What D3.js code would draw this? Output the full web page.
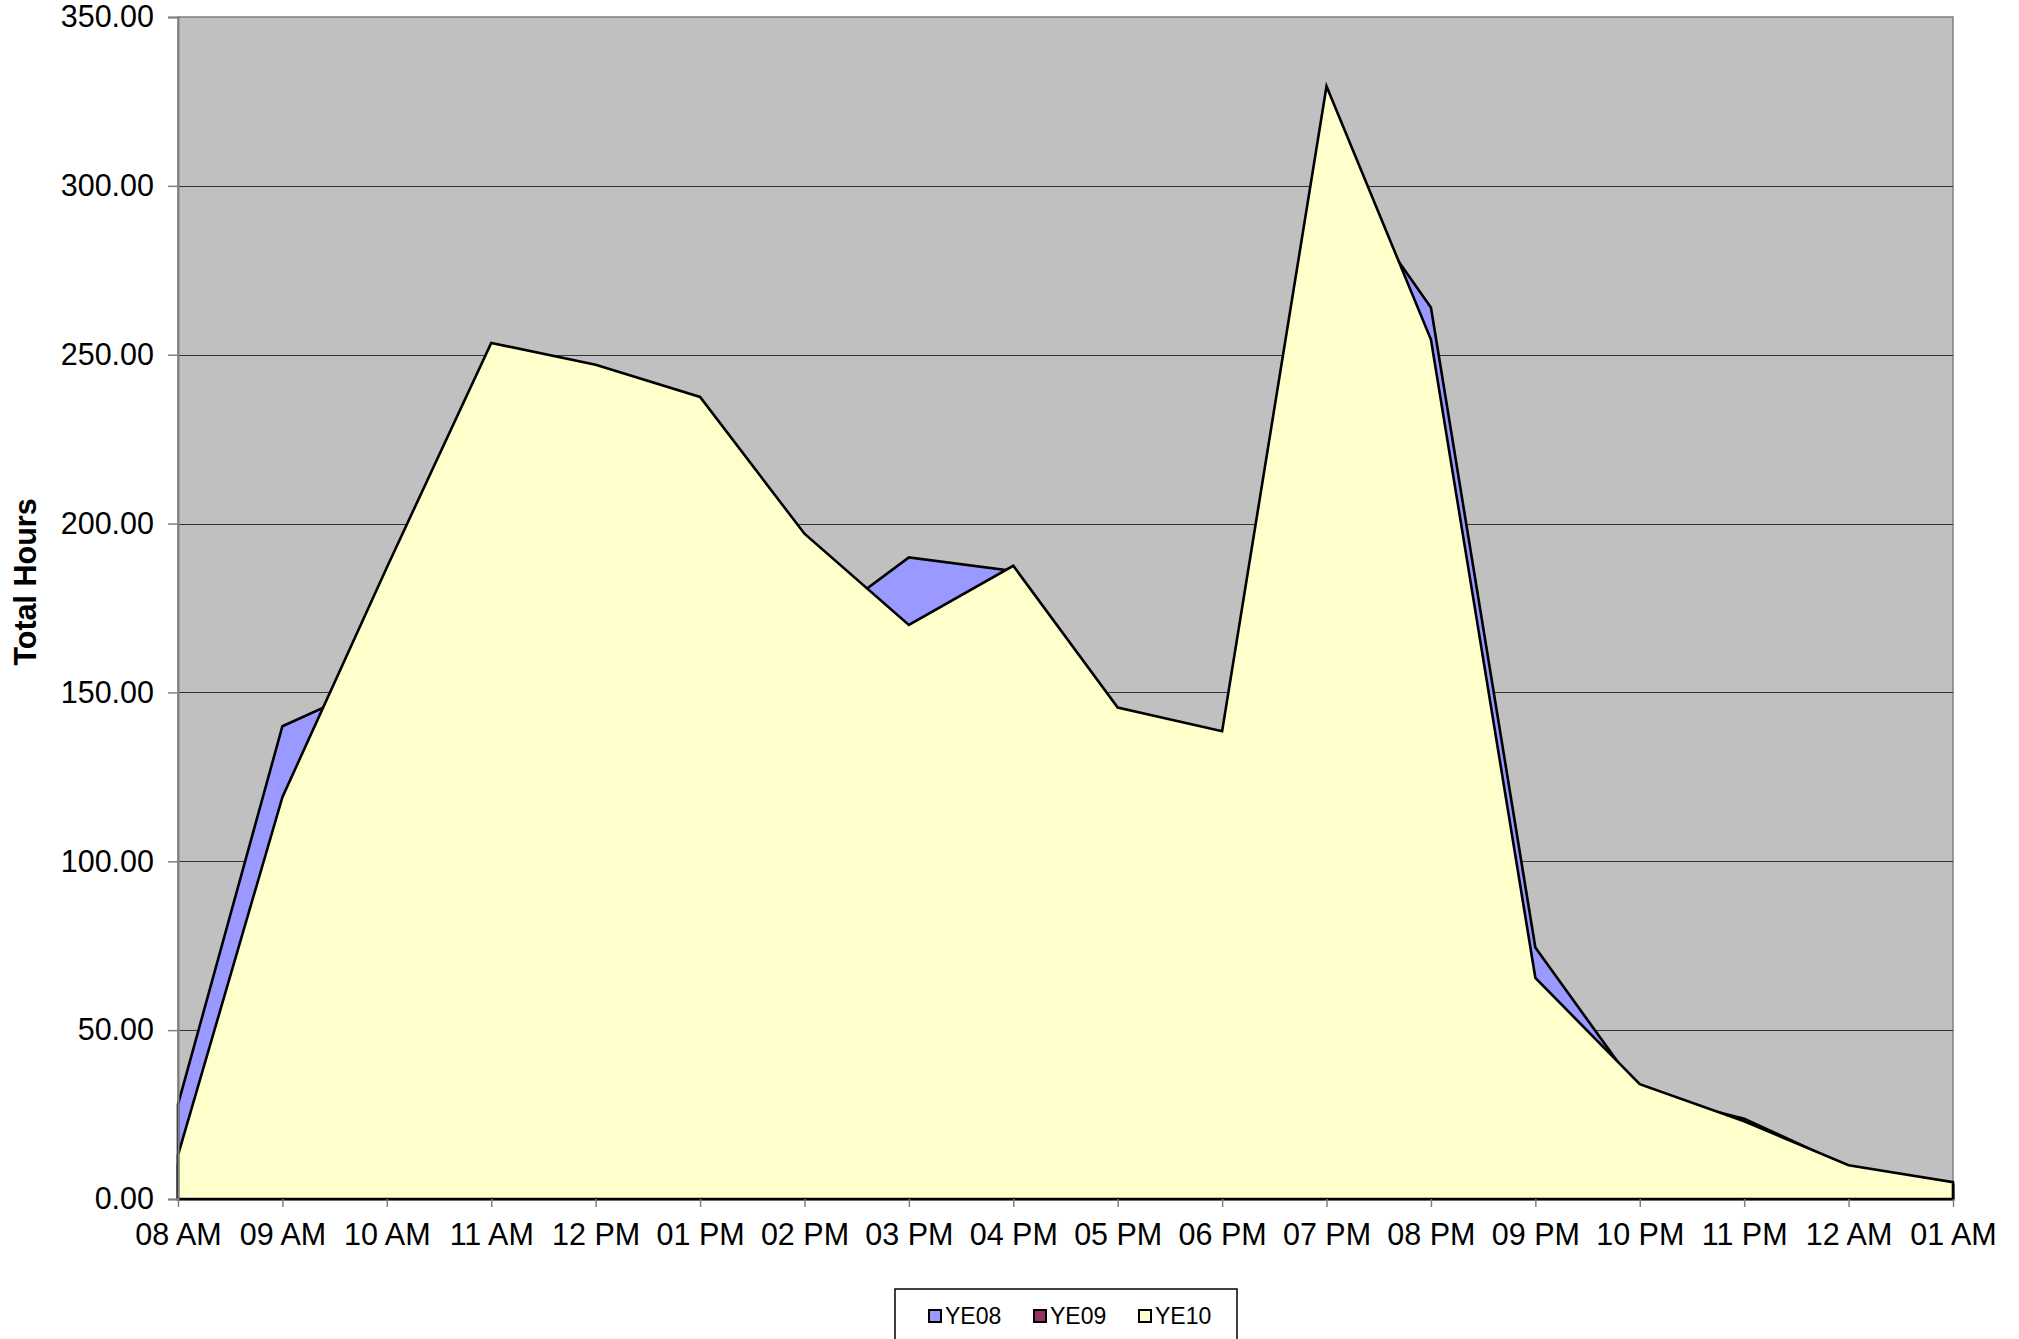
<!DOCTYPE html>
<html>
<head>
<meta charset="utf-8">
<script src="https://cdn.jsdelivr.net/npm/d3@7"></script>
<style>
  body { margin: 0; background: #fff; }
  text { font-family: "Liberation Sans", Arial, sans-serif; }
</style>
</head>
<body>
<div id="chart"></div>
<script>
// categories and series
var hours = ["08 AM", "09 AM", "10 AM", "11 AM", "12 PM", "01 PM", "02 PM", "03 PM", "04 PM",
             "05 PM", "06 PM", "07 PM", "08 PM", "09 PM", "10 PM", "11 PM", "12 AM", "01 AM"];
var ye08 = [28, 140, 154, 245, 238, 228, 167, 190, 186, 140, 130, 308, 264, 74.5, 31.5, 23.8, 9.5, 4.5];
var ye09 = [10, 100, 150, 220, 215, 210, 170, 150, 160, 120, 115, 280, 230, 55, 28, 18, 8, 4];
var ye10 = [13, 119, 187, 253.5, 247, 237.5, 197, 170, 187.5, 145.5, 138.5, 329.5, 254.5, 65.5, 34, 23, 10, 5];
var yTicks = [0, 50, 100, 150, 200, 250, 300, 350];
var seriesNames = ["YE08", "YE09", "YE10"];
var seriesColors = ["#9999FF", "#993366", "#FFFFCC"];

var W = 2019, H = 1339;
var plot = {left: 178, right: 1953, top: 17, bottom: 1199};

var svg = d3.select("#chart")
    .append("svg")
    .attr("width", W)
    .attr("height", H);

var x = d3.scalePoint()
    .domain(hours)
    .range([plot.left, plot.right]);

var y = d3.scaleLinear()
    .domain([0, 350])
    .range([plot.bottom, plot.top]);

// plot background
svg.append("rect")
    .attr("x", plot.left)
    .attr("y", plot.top)
    .attr("width", plot.right - plot.left)
    .attr("height", plot.bottom - plot.top)
    .attr("fill", "#C0C0C0")
    .attr("stroke", "#808080")
    .attr("stroke-width", 1.5);

// gridlines
svg.append("g")
    .selectAll("line")
    .data(yTicks.filter(function(d) { return d > 0 && d < 350; }))
    .enter().append("line")
    .attr("x1", plot.left)
    .attr("x2", plot.right)
    .attr("y1", function(d) { return Math.round(y(d)) + 0.5; })
    .attr("y2", function(d) { return Math.round(y(d)) + 0.5; })
    .attr("stroke", "#333")
    .attr("stroke-width", 1);

// areas, drawn in series order so YE10 sits on top
var area = d3.area()
    .x(function(d, i) { return x(hours[i]); })
    .y0(y(0))
    .y1(function(d) { return y(d); });

[ye08, ye09, ye10].forEach(function(s, k) {
    svg.append("path")
        .datum(s)
        .attr("d", area)
        .attr("fill", seriesColors[k])
        .attr("stroke", "#000")
        .attr("stroke-width", 2.6)
        .attr("stroke-linejoin", "miter");
});

// y axis
var yAxis = svg.append("g")
    .attr("transform", "translate(" + plot.left + ",0)")
    .call(d3.axisLeft(y)
        .tickValues(yTicks)
        .tickSize(10)
        .tickPadding(14)
        .tickFormat(d3.format(".2f")));
yAxis.select(".domain").attr("stroke", "#808080").attr("stroke-width", 2);
yAxis.selectAll(".tick line").attr("stroke", "#808080").attr("stroke-width", 1.5);
yAxis.selectAll("text")
    .attr("font-size", "30.5px")
    .attr("fill", "#000")
    .style("font-family", "'Liberation Sans', Arial, sans-serif");

// x axis
var xAxis = svg.append("g")
    .attr("transform", "translate(0," + plot.bottom + ")")
    .call(d3.axisBottom(x)
        .tickSize(8)
        .tickPadding(16));
xAxis.select(".domain").remove();
xAxis.selectAll(".tick line").attr("stroke", "#808080").attr("stroke-width", 1.5);
xAxis.selectAll("text")
    .attr("font-size", "30.5px")
    .attr("fill", "#000")
    .style("font-family", "'Liberation Sans', Arial, sans-serif");

// y title
svg.append("text")
    .attr("transform", "translate(36,582) rotate(-90)")
    .attr("text-anchor", "middle")
    .attr("font-size", "30.5px")
    .attr("font-weight", "bold")
    .text("Total Hours");

// legend
var legend = svg.append("g").attr("class", "legend");
legend.append("rect")
    .attr("x", 895)
    .attr("y", 1289)
    .attr("width", 342)
    .attr("height", 70)
    .attr("fill", "#fff")
    .attr("stroke", "#000")
    .attr("stroke-width", 1.5);

var legendX = [929, 1034, 1139];
seriesNames.forEach(function(name, i) {
    legend.append("rect")
        .attr("x", legendX[i])
        .attr("y", 1310)
        .attr("width", 12)
        .attr("height", 12)
        .attr("fill", seriesColors[i])
        .attr("stroke", "#000")
        .attr("stroke-width", 2);
    legend.append("text")
        .attr("x", legendX[i] + 16)
        .attr("y", 1324)
        .attr("font-size", "23px")
        .text(name);
});
</script>
</body>
</html>
